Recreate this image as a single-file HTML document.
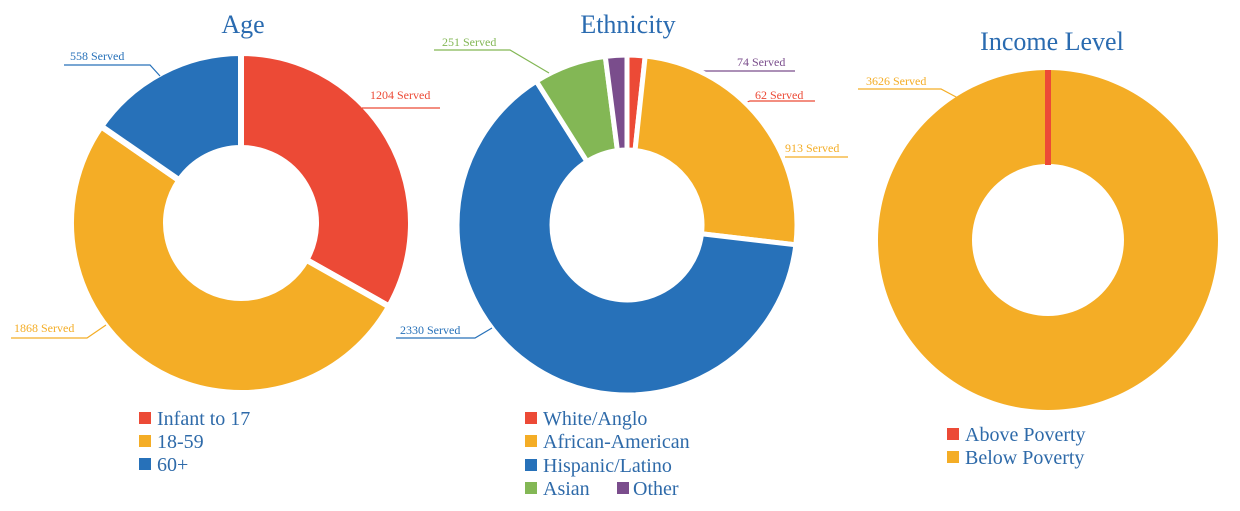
<!DOCTYPE html>
<html><head><meta charset="utf-8"><style>
html,body{margin:0;padding:0;background:#fff;}
svg{display:block;}
text{font-family:"Liberation Serif",serif;}
</style></head><body>
<svg id="s" width="1240" height="511" viewBox="0 0 1240 511" xmlns="http://www.w3.org/2000/svg">
<g id="under"></g>
<g id="pies"></g>
<g id="labels" font-size="12" fill="none" stroke-width="1.2">
  <polyline points="64,65 150,65 160,76" stroke="#2771b9"/>
  <text x="70" y="60" fill="#2771b9" stroke="none">558 Served</text>
  <polyline points="362,108 440,108" stroke="#ec4a36"/>
  <text x="370" y="99" fill="#ec4a36" stroke="none">1204 Served</text>
  <polyline points="11,338 87,338 106,325" stroke="#f4ad26"/>
  <text x="14" y="332" fill="#f4ad26" stroke="none">1868 Served</text>
  <polyline points="434,50 510,50 549,73" stroke="#83b755"/>
  <text x="442" y="46" fill="#83b755" stroke="none">251 Served</text>
  <text x="737" y="66" fill="#7a4d8c" stroke="none">74 Served</text>
  <text x="755" y="99" fill="#ec4a36" stroke="none">62 Served</text>
  <polyline points="785,157 848,157" stroke="#f4ad26"/>
  <text x="785" y="152" fill="#f4ad26" stroke="none">913 Served</text>
  <polyline points="396,338 475,338 492,328" stroke="#2771b9"/>
  <text x="400" y="334" fill="#2771b9" stroke="none">2330 Served</text>
  <polyline points="858,89 941,89 958,98" stroke="#f4ad26"/>
  <text x="866" y="85" fill="#f4ad26" stroke="none">3626 Served</text>
</g>
<g fill="#2a6bb0" font-size="26" text-anchor="middle">
  <text x="243" y="33">Age</text>
  <text x="628" y="33">Ethnicity</text>
  <text x="1052" y="50">Income Level</text>
</g>
<g font-size="20" fill="#2e6aa9">
  <rect x="139" y="412" width="12" height="12" fill="#ec4a36"/><text x="157" y="425">Infant to 17</text>
  <rect x="139" y="435" width="12" height="12" fill="#f4ad26"/><text x="157" y="448">18-59</text>
  <rect x="139" y="458" width="12" height="12" fill="#2771b9"/><text x="157" y="471">60+</text>

  <rect x="525" y="412" width="12" height="12" fill="#ec4a36"/><text x="543" y="425">White/Anglo</text>
  <rect x="525" y="435" width="12" height="12" fill="#f4ad26"/><text x="543" y="448">African-American</text>
  <rect x="525" y="459" width="12" height="12" fill="#2771b9"/><text x="543" y="472">Hispanic/Latino</text>
  <rect x="525" y="482" width="12" height="12" fill="#83b755"/><text x="543" y="495">Asian</text>
  <rect x="617" y="482" width="12" height="12" fill="#7a4d8c"/><text x="633" y="495">Other</text>

  <rect x="947" y="428" width="12" height="12" fill="#ec4a36"/><text x="965" y="441">Above Poverty</text>
  <rect x="947" y="451" width="12" height="12" fill="#f4ad26"/><text x="965" y="464">Below Poverty</text>
</g>
</svg>
<script>
(function(){
var NS="http://www.w3.org/2000/svg";
function P(cx,cy,r,a){var t=(a-90)*Math.PI/180;return [cx+r*Math.cos(t),cy+r*Math.sin(t)];}
function arc(cx,cy,R,r,a0,a1){
 var l=(a1-a0)>180?1:0;var p1=P(cx,cy,R,a0),p2=P(cx,cy,R,a1),p3=P(cx,cy,r,a1),p4=P(cx,cy,r,a0);
 return "M"+p1+"A"+R+","+R+" 0 "+l+" 1 "+p2+"L"+p3+"A"+r+","+r+" 0 "+l+" 0 "+p4+"Z";}
var g=document.getElementById("pies");
function pie(cx,cy,R,r,vals,cols,sw){
 var tot=vals.reduce(function(a,b){return a+b},0),a=0;
 vals.forEach(function(v,i){var b=a+v/tot*360;var e=document.createElementNS(NS,"path");
  e.setAttribute("d",arc(cx,cy,R,r,a,b));e.setAttribute("fill",cols[i]);
  e.setAttribute("stroke","#fff");e.setAttribute("stroke-width",sw);e.setAttribute("stroke-linejoin","miter");
  g.appendChild(e);a=b;});
}
pie(241,223,170,75,[1204,1868,558],["#ec4a36","#f4ad26","#2771b9"],6);
pie(627,225,170,75,[62,913,2330,251,74],["#ec4a36","#f4ad26","#2771b9","#83b755","#7a4d8c"],5);
// income
var y=document.createElementNS(NS,"path");y.setAttribute("d",arc(1048,240,170,76,0,359.99));y.setAttribute("fill","#f4ad26");g.appendChild(y);
var rr=document.createElementNS(NS,"rect");rr.setAttribute("x",1045);rr.setAttribute("y",70);rr.setAttribute("width",6);rr.setAttribute("height",95);rr.setAttribute("fill","#ec4a36");g.appendChild(rr);
// under lines (drawn behind slices)
var u=document.getElementById("under");
u.innerHTML='<polyline points="625,117 698,71 795,71" fill="none" stroke="#7a4d8c" stroke-width="1.2"/><polyline points="633,146 750,101 815,101" fill="none" stroke="#ec4a36" stroke-width="1.2"/>';
})();
</script>
</body></html>
